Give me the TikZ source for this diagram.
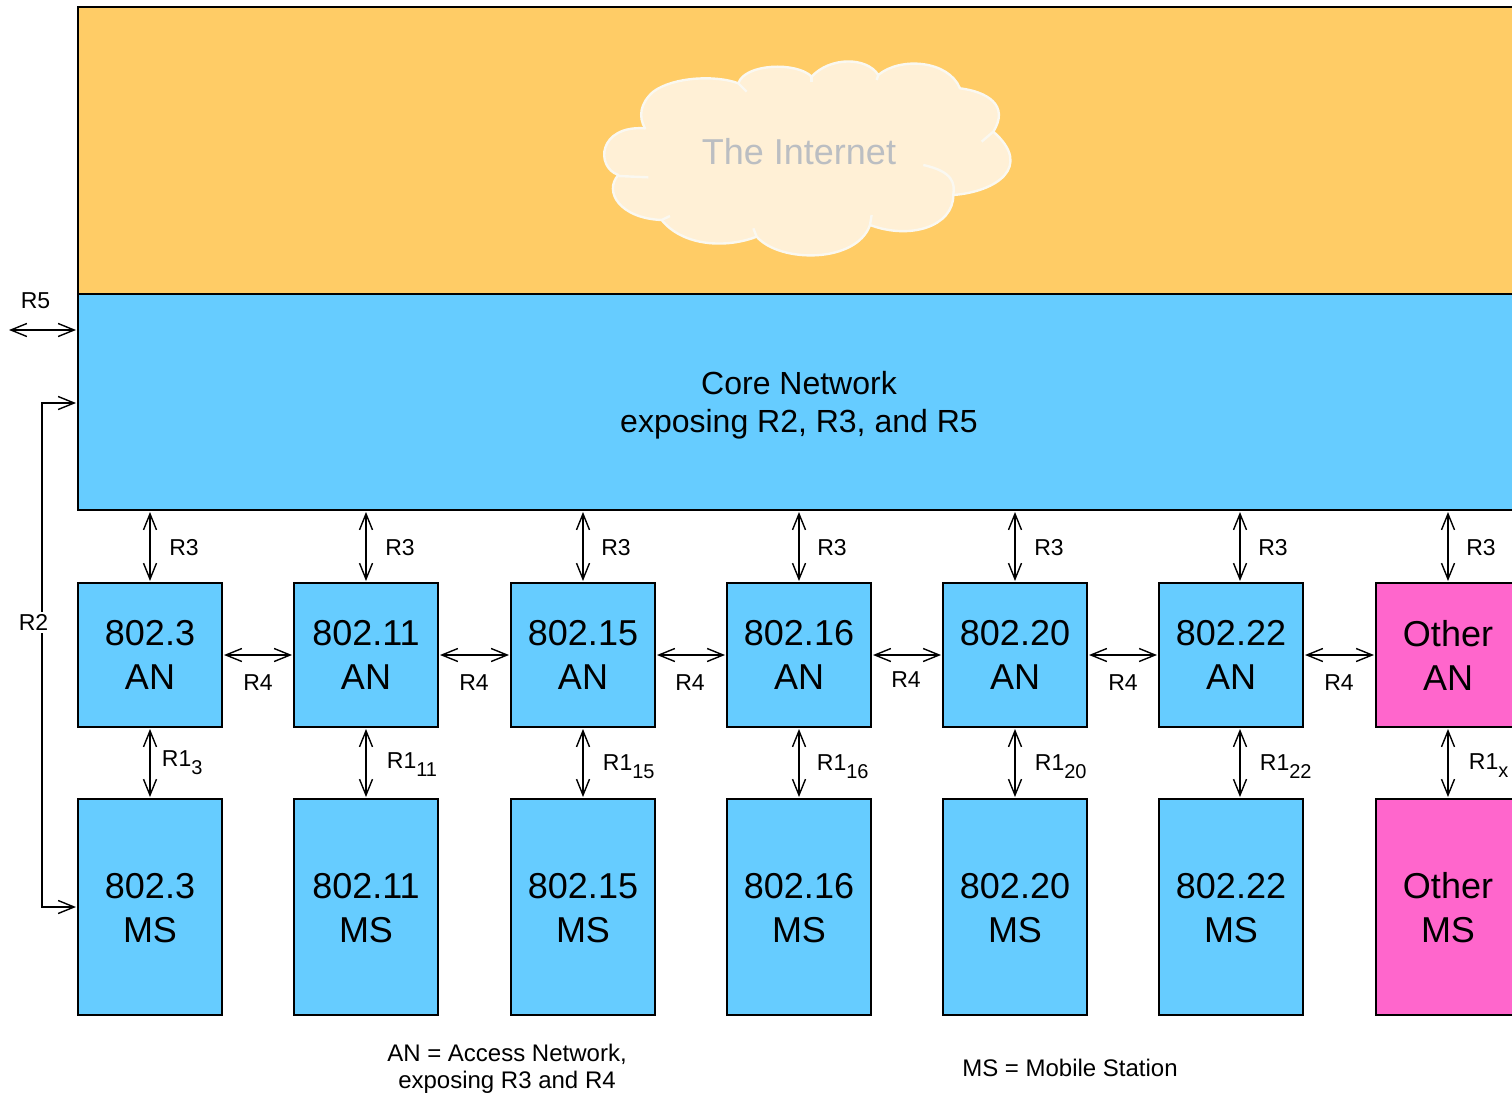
\documentclass[tikz,border=0pt]{standalone}
\usepackage{fontspec}
\setmainfont{Liberation Sans}
\usetikzlibrary{arrows.meta}
\definecolor{netblue}{HTML}{66CCFF}
\definecolor{netorange}{HTML}{FFCC66}
\definecolor{netpink}{HTML}{FF66CC}
\definecolor{cloudfill}{HTML}{FFF0D6}
\definecolor{cloudline}{HTML}{FAF8F1}
\definecolor{cloudtext}{HTML}{BBBEC2}
\newcommand{\ronesub}[1]{R1\raisebox{-4pt}{\fontsize{10}{10}\selectfont #1}}
\begin{document}
\begin{tikzpicture}[x=0.5pt, y=-0.5pt, >={Straight Barb[length=8pt,width=6.5pt]},
    band/.style={draw, line width=0.8pt, inner sep=0pt, outer sep=0pt, minimum width=721pt, align=center},
    anbox/.style={draw, fill=netblue, line width=0.8pt, inner sep=0pt, outer sep=0pt, minimum width=72pt, minimum height=72pt, align=center, font=\fontsize{18}{22}\selectfont},
    msbox/.style={anbox, minimum height=108pt, execute at begin node=\rule{0pt}{36pt}},
    link/.style={<->, line width=0.7pt, shorten <=1pt, shorten >=1pt},
    rlabel/.style={inner sep=1pt, font=\fontsize{11.5}{13}\selectfont},
    note/.style={inner sep=0pt, align=center, font=\fontsize{12}{13.5}\selectfont},
    cloudedge/.style={draw=cloudline, line width=1.2pt, line join=round}]
    \clip (0,0) rectangle (1512,1093);

    \node[band, fill=netorange, minimum height=143.5pt] (inet) at (799,150.5) {};
    \node[band, fill=netblue, minimum height=108pt, font=\fontsize{16}{19}\selectfont, execute at begin node=\rule{0pt}{33.7pt}] (core) at (799,402) {Core Network\\exposing R2, R3, and R5};

    % cloud, traced
    \begin{scope}[shift={(590,50)}, x=1/6*1pt, y=-1/6*1pt]
        \draw[cloudedge, fill=cloudfill]
            (165,235) .. controls (25,225) and (15,350) .. (85,375)
            .. controls (40,425) and (90,505) .. (215,510)
            .. controls (280,590) and (410,595) .. (500,560)
            .. controls (570,640) and (800,640) .. (840,525)
            .. controls (960,570) and (1090,530) .. (1090,435)
            .. controls (1220,425) and (1330,350) .. (1210,245)
            .. controls (1260,165) and (1190,125) .. (1110,115)
            .. controls (1075,30) and (930,20) .. (865,75)
            .. controls (830,20) and (720,20) .. (665,80)
            .. controls (620,35) and (465,40) .. (445,100)
            .. controls (380,75) and (250,80) .. (190,125)
            .. controls (150,160) and (145,200) .. (165,235) -- cycle;
        \draw[cloudedge] (1000,345) .. controls (1090,365) and (1095,400) .. (1090,435);
        \draw[cloudedge] (1210,245) -- (1175,275);
        \draw[cloudedge] (85,378) -- (175,382);
        \draw[cloudedge] (845,495) -- (840,525);
        \draw[cloudedge] (445,100) -- (470,125);
        \draw[cloudedge] (665,80) -- (665,97);
        \draw[cloudedge] (865,75) -- (860,90);
        \draw[cloudedge] (215,510) -- (240,498);
        \draw[cloudedge] (500,560) -- (490,535);
    \end{scope}
    \node[inner sep=0pt, text=cloudtext, font=\fontsize{18}{20}\selectfont] (cloud) at (799,152) {The Internet};

    \node[anbox] (a3) at (150,655) {802.3\\AN};
    \node[anbox] (a11) at (366,655) {802.11\\AN};
    \node[anbox] (a15) at (583,655) {802.15\\AN};
    \node[anbox] (a16) at (799,655) {802.16\\AN};
    \node[anbox] (a20) at (1015,655) {802.20\\AN};
    \node[anbox] (a22) at (1231,655) {802.22\\AN};
    \node[anbox, fill=netpink] (aother) at (1448,655) {Other\\AN};

    \node[msbox] (m3) at (150,907) {802.3\\MS};
    \node[msbox] (m11) at (366,907) {802.11\\MS};
    \node[msbox] (m15) at (583,907) {802.15\\MS};
    \node[msbox] (m16) at (799,907) {802.16\\MS};
    \node[msbox] (m20) at (1015,907) {802.20\\MS};
    \node[msbox] (m22) at (1231,907) {802.22\\MS};
    \node[msbox, fill=netpink] (mother) at (1448,907) {Other\\MS};

    \coordinate (c22) at (1240,0);

    \draw[link] (a3.north) -- (a3.north |- core.south);
    \draw[link] (a11.north) -- (a11.north |- core.south);
    \draw[link] (a15.north) -- (a15.north |- core.south);
    \draw[link] (a16.north) -- (a16.north |- core.south);
    \draw[link] (a20.north) -- (a20.north |- core.south);
    \draw[link] (c22 |- a22.north) -- (c22 |- core.south);
    \draw[link] (aother.north) -- (aother.north |- core.south);

    \draw[link] (a3.south) -- (m3.north);
    \draw[link] (a11.south) -- (m11.north);
    \draw[link] (a15.south) -- (m15.north);
    \draw[link] (a16.south) -- (m16.north);
    \draw[link] (a20.south) -- (m20.north);
    \draw[link] (c22 |- a22.south) -- (c22 |- m22.north);
    \draw[link] (aother.south) -- (mother.north);

    \draw[link] (a3.east) -- (a11.west);
    \draw[link] (a11.east) -- (a15.west);
    \draw[link] (a15.east) -- (a16.west);
    \draw[link] (a16.east) -- (a20.west);
    \draw[link] (a20.east) -- (a22.west);
    \draw[link] (a22.east) -- (aother.west);

    \coordinate (r5free) at (7,330);
    \coordinate (r5end) at (78,330);
    \coordinate (r2end) at (78,403);
    \draw[link] (r5free) -- (r5end);
    \draw[link] (r2end) -- ++(-36,0) |- (m3.west);

    \node[rlabel] (r5) at (35.5,301) {R5};
    \node[rlabel, fill=white] (r2) at (33.5,622.5) {R2};

    \node[rlabel] (r3a) at (184,548) {R3};
    \node[rlabel] (r3b) at (400,548) {R3};
    \node[rlabel] (r3c) at (616,548) {R3};
    \node[rlabel] (r3d) at (832,548) {R3};
    \node[rlabel] (r3e) at (1049,548) {R3};
    \node[rlabel] (r3f) at (1273,548) {R3};
    \node[rlabel] (r3g) at (1481,548) {R3};

    \node[rlabel] (r4a) at (258,683) {R4};
    \node[rlabel] (r4b) at (474,683) {R4};
    \node[rlabel] (r4c) at (690,683) {R4};
    \node[rlabel] (r4d) at (906,680) {R4};
    \node[rlabel] (r4e) at (1123,683) {R4};
    \node[rlabel] (r4f) at (1339,683) {R4};

    \node[rlabel, anchor=base west] (r1a) at (159.5,766) {\ronesub{3}};
    \node[rlabel, anchor=base west] (r1b) at (384.5,768) {\ronesub{11}};
    \node[rlabel, anchor=base west] (r1c) at (600.5,770) {\ronesub{15}};
    \node[rlabel, anchor=base west] (r1d) at (814.5,770) {\ronesub{16}};
    \node[rlabel, anchor=base west] (r1e) at (1032.5,770) {\ronesub{20}};
    \node[rlabel, anchor=base west] (r1f) at (1257.5,770) {\ronesub{22}};
    \node[rlabel, anchor=base west] (r1g) at (1466.5,769) {\ronesub{x}};

    \node[note] (legenda) at (507,1068.5) {AN = Access Network,\\exposing R3 and R4};
    \node[note] (legendm) at (1070,1068) {MS = Mobile Station};
\end{tikzpicture}
\end{document}
